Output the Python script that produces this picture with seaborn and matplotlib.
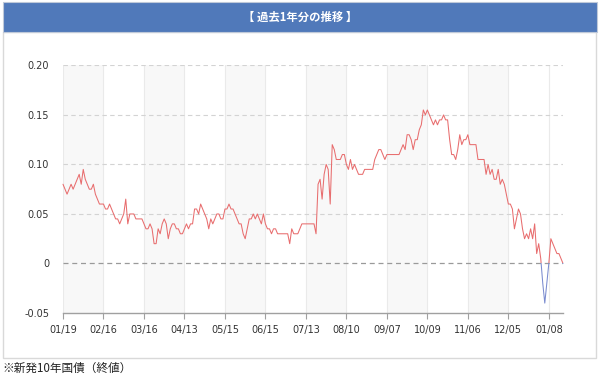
import numpy as np
import pandas as pd
import seaborn as sns
import matplotlib
matplotlib.use("Agg")
import matplotlib.pyplot as plt
from matplotlib.patches import Rectangle

# 新発10年国債 利回り (終値), 営業日ごと
yields = [
    # 01/19 -
    0.08, 0.075, 0.07, 0.075, 0.08, 0.075, 0.08, 0.085, 0.09, 0.08,
    0.095, 0.085, 0.08, 0.075, 0.075, 0.08, 0.07, 0.065, 0.06, 0.06,
    # 02/16 -
    0.06, 0.055, 0.055, 0.06, 0.055, 0.05, 0.045, 0.045, 0.04, 0.045,
    0.05, 0.065, 0.04, 0.05, 0.05, 0.05, 0.045, 0.045, 0.045, 0.045,
    # 03/16 -
    0.04, 0.035, 0.035, 0.04, 0.035, 0.02, 0.02, 0.035, 0.03, 0.04,
    0.045, 0.04, 0.025, 0.035, 0.04, 0.04, 0.035, 0.035, 0.03, 0.03,
    # 04/13 -
    0.035, 0.04, 0.035, 0.04, 0.04, 0.055, 0.055, 0.05, 0.06, 0.055,
    0.05, 0.045, 0.035, 0.045, 0.04, 0.045, 0.05, 0.05, 0.045, 0.045,
    # 05/15 -
    0.055, 0.055, 0.06, 0.055, 0.055, 0.05, 0.045, 0.04, 0.04, 0.03,
    0.025, 0.035, 0.045, 0.045, 0.05, 0.045, 0.05, 0.045, 0.04, 0.05,
    # 06/15 -
    0.04, 0.035, 0.035, 0.03, 0.035, 0.035, 0.03, 0.03, 0.03, 0.03,
    0.03, 0.03, 0.02, 0.035, 0.03, 0.03, 0.03, 0.035, 0.04, 0.04,
    # 07/13 -
    0.04, 0.04, 0.04, 0.04, 0.04, 0.03, 0.08, 0.085, 0.065, 0.09,
    0.10, 0.095, 0.06, 0.12, 0.115, 0.105, 0.105, 0.105, 0.11, 0.11,
    # 08/10 -
    0.10, 0.095, 0.105, 0.095, 0.10, 0.095, 0.09, 0.09, 0.09, 0.095,
    0.095, 0.095, 0.095, 0.095, 0.105, 0.11, 0.115, 0.115, 0.11, 0.105,
    # 09/07 -
    0.11, 0.11, 0.11, 0.11, 0.11, 0.11, 0.11, 0.115, 0.12, 0.115,
    0.13, 0.13, 0.125, 0.115, 0.125, 0.125, 0.135, 0.14, 0.155, 0.15,
    # 10/09 -
    0.155, 0.15, 0.145, 0.14, 0.145, 0.14, 0.145, 0.145, 0.15, 0.145,
    0.145, 0.125, 0.11, 0.11, 0.105, 0.115, 0.13, 0.12, 0.125, 0.125,
    # 11/06 -
    0.13, 0.12, 0.12, 0.12, 0.12, 0.105, 0.105, 0.105, 0.105, 0.09,
    0.10, 0.09, 0.095, 0.085, 0.085, 0.095, 0.08, 0.085, 0.08, 0.07,
    # 12/05 -
    0.06, 0.06, 0.055, 0.035, 0.045, 0.055, 0.05, 0.035, 0.025, 0.03,
    0.025, 0.035, 0.025, 0.04, 0.01, 0.02, 0.005, -0.02, -0.04, -0.02,
    # 01/08 -
    0.0, 0.025, 0.02, 0.015, 0.01, 0.01, 0.005, 0.0,
]

tick_labels = ["01/19", "02/16", "03/16", "04/13", "05/15", "06/15", "07/13",
               "08/10", "09/07", "10/09", "11/06", "12/05", "01/08"]
tick_pos = [0, 20, 40, 60, 80, 100, 120, 140, 160, 180, 200, 220, 240]
y_ticks = [-0.05, 0, 0.05, 0.10, 0.15, 0.20]
y_tick_labels = ["-0.05", "0", "0.05", "0.10", "0.15", "0.20"]

df = pd.DataFrame({"day": np.arange(len(yields)), "yield": yields})

sns.set_style("white")
plt.rcParams["font.family"] = ["DejaVu Sans", "Noto Sans CJK JP"]

fig = plt.figure(figsize=(6, 3.78), dpi=100)
W, H = 600, 378

# header bar and panel frame
fig.patches.append(Rectangle((3 / W, 1 - 358 / H), 593 / W, 326 / H, transform=fig.transFigure,
                             facecolor="white", edgecolor="#D9D9D9", lw=1, zorder=-2))
fig.patches.append(Rectangle((3 / W, 1 - 32 / H), 594 / W, 30 / H, transform=fig.transFigure,
                             facecolor="#5079BA", edgecolor="#BFC9D9", lw=0.8, zorder=-1))
fig.text(0.5, 1 - 17 / H, "【 過去1年分の推移 】", color="white", fontsize=8.2, fontweight="bold",
         ha="center", va="center", family=["Noto Sans CJK JP", "DejaVu Sans"])
fig.text(2 / W, 1 - 368 / H, "※新発10年国債（終値）", color="#222222", fontsize=8.4,
         ha="left", va="center", family=["Noto Sans CJK JP", "DejaVu Sans"])

ax = fig.add_axes([63 / W, 1 - 313 / H, 500 / W, (313 - 65.4) / H])
ax.set_zorder(2)
ax.set_xlim(0, len(yields) - 1)
ax.set_ylim(-0.05, 0.20)

# alternating bands
for k in range(0, len(tick_pos) - 1, 2):
    ax.axvspan(tick_pos[k], tick_pos[k + 1], color="#F8F8F8", lw=0, zorder=0)
for p in tick_pos:
    ax.axvline(p, color="#EAEAEA", lw=0.8, zorder=0.5)
for yv in y_ticks[2:]:
    ax.axhline(yv, color="#D3D3D3", lw=0.8, ls=(0, (4, 3)), zorder=0.6)
ax.axhline(0, color="#9A9A9A", lw=0.9, ls=(0, (4, 3)), zorder=0.6)

sns.lineplot(data=df, x="day", y="yield", ax=ax, color="#E86D6E", lw=0.75, zorder=3)
sns.lineplot(data=df, x="day", y="yield", ax=ax, color="#7A8BCF", lw=0.75, zorder=3)
red_line, blue_line = ax.lines[-2], ax.lines[-1]
red_line.set_clip_path(Rectangle((-10, 0), 1000, 10, transform=ax.transData))
blue_line.set_clip_path(Rectangle((-10, -10), 1000, 10, transform=ax.transData))

ax.set_xticks(tick_pos)
ax.set_xticklabels(tick_labels)
ax.set_yticks(y_ticks)
ax.set_yticklabels(y_tick_labels)
ax.set_xlabel("")
ax.set_ylabel("")
for s in ["top", "right", "left"]:
    ax.spines[s].set_visible(False)
ax.spines["bottom"].set_color("#A0A0A0")
ax.spines["bottom"].set_linewidth(1)
ax.tick_params(axis="x", length=4, width=0.8, color="#A0A0A0", labelsize=7,
               labelcolor="#333333", pad=5, direction="out", bottom=True)
ax.tick_params(axis="y", length=0, labelsize=7, labelcolor="#333333", pad=10)
ax.set_facecolor("none")

fig.savefig("out.png", dpi=100)
